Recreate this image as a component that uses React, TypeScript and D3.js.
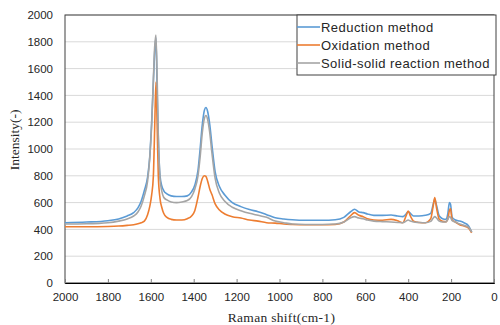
import React, { useEffect, useRef } from "react";
import * as d3 from "d3";

// Raman shift (cm-1) sample points, shared by the three spectra
const shifts = [
  2000, 1900, 1800, 1750, 1710, 1680, 1660, 1645, 1630, 1615, 1605, 1596, 1588, 1582, 1576, 1570,
  1565, 1557, 1548, 1540, 1525, 1505, 1480, 1455, 1430, 1410, 1395, 1380, 1370, 1360, 1350, 1343,
  1335, 1325, 1315, 1300, 1280, 1255, 1220, 1180, 1140, 1100, 1060, 1020, 980, 940, 880, 800, 740,
  700, 670, 650, 630, 610, 590, 560, 520, 480, 450, 425, 410, 400, 390, 375, 350, 320, 295, 283,
  276, 268, 255, 240, 225, 215, 208, 203, 195, 180, 160, 140, 120, 104,
];

const reduction = [
  450, 455, 465, 478, 500, 525, 560, 610, 690, 790, 940, 1200, 1500, 1720, 1830, 1400,
  1080, 800, 720, 690, 665, 650, 645, 645, 650, 680, 730, 840, 1000, 1180, 1290, 1310,
  1280, 1180, 1030, 830, 720, 657, 600, 570, 548, 532, 510, 487, 478, 472, 468, 468, 472,
  490, 530, 550, 530, 525, 515, 505, 505, 507, 500, 495, 515, 532, 520, 500, 500, 505, 520, 590,
  625, 580, 500, 480, 475, 520, 600, 590, 490, 470, 462, 450, 430, 380,
];

const oxidation = [
  420, 420, 422, 425, 430, 435, 442, 450, 462, 510, 570, 657, 800, 1150, 1500, 1150,
  800, 630, 560, 520, 490, 475, 470, 470, 480, 500, 540, 640, 720, 780, 800, 795,
  760, 700, 660, 590, 545, 515, 495, 485, 470, 462, 450, 447, 440, 437, 435, 435, 437,
  455, 500, 525, 505, 495, 480, 470, 468, 475, 465, 450, 500, 537, 500, 462, 452, 450, 480, 580,
  637, 560, 475, 460, 457, 480, 540, 555, 470, 455, 435, 425, 412, 375,
];

const solidSolid = [
  440, 442, 450, 462, 478, 500, 530, 575, 650, 760, 930, 1180, 1520, 1760, 1850, 1500,
  1100, 780, 680, 640, 620, 605, 600, 605, 615, 645, 700, 800, 940, 1120, 1230, 1250,
  1220, 1120, 970, 780, 670, 610, 565, 540, 520, 505, 490, 462, 450, 440, 437, 437, 440,
  455, 485, 495, 485, 480, 470, 462, 458, 455, 452, 450, 462, 470, 462, 455, 452, 450, 460, 485,
  495, 485, 462, 455, 455, 475, 495, 490, 465, 455, 440, 430, 418, 380,
];

const seriesNames = ["Reduction method", "Oxidation method", "Solid-solid reaction method"];
const seriesColors = ["#5b9bd5", "#ed7d31", "#a5a5a5"];
const xTicks = [2000, 1800, 1600, 1400, 1200, 1000, 800, 600, 400, 200, 0];
const yTicks = [0, 200, 400, 600, 800, 1000, 1200, 1400, 1600, 1800, 2000];

const App = () => {
  const ref = useRef<SVGSVGElement>(null);

  useEffect(() => {
    const left = 65;
    const right = 494;
    const top = 15;
    const bottom = 283;

    const x = d3.scaleLinear().domain([2000, 0]).range([left, right]);
    const y = d3.scaleLinear().domain([0, 2000]).range([bottom, top]);

    const svg = d3.select(ref.current);
    svg.selectAll("*").remove();

    svg
      .append("rect")
      .attr("width", 500)
      .attr("height", 325)
      .attr("fill", "#fff");

    // horizontal gridlines
    svg
      .append("g")
      .selectAll("line")
      .data(yTicks)
      .enter()
      .append("line")
      .attr("x1", left)
      .attr("x2", right)
      .attr("y1", (d) => y(d))
      .attr("y2", (d) => y(d))
      .attr("stroke", "#d9d9d9")
      .attr("stroke-width", 1);

    // plot frame
    svg
      .append("rect")
      .attr("x", left)
      .attr("y", top)
      .attr("width", right - left)
      .attr("height", bottom - top)
      .attr("fill", "none")
      .attr("stroke", "#404040")
      .attr("stroke-width", 1);

    // x axis, ticks pointing up
    const xAxis = svg
      .append("g")
      .attr("transform", "translate(0," + bottom + ")")
      .call(d3.axisBottom(x).tickValues(xTicks).tickSize(-4).tickPadding(10).tickFormat(d3.format("d")));
    xAxis.select(".domain").attr("stroke", "#000");
    xAxis.selectAll(".tick line").attr("stroke", "#808080");
    xAxis
      .selectAll("text")
      .attr("fill", "#262626")
      .style("font-family", "'Liberation Sans', Arial, sans-serif")
      .style("font-size", "11.5px");

    const yAxis = svg
      .append("g")
      .attr("transform", "translate(" + left + ",0)")
      .call(d3.axisLeft(y).tickValues(yTicks).tickSize(0).tickPadding(12).tickFormat(d3.format("d")));
    yAxis.select(".domain").remove();
    yAxis
      .selectAll("text")
      .attr("fill", "#262626")
      .style("font-family", "'Liberation Sans', Arial, sans-serif")
      .style("font-size", "11.5px");

    const line = d3
      .line<number>()
      .x((d, i) => x(shifts[i]))
      .y((d) => y(d))
      .curve(d3.curveMonotoneX);

    [reduction, oxidation, solidSolid].forEach((values, i) => {
      svg
        .append("path")
        .datum(values)
        .attr("fill", "none")
        .attr("stroke", seriesColors[i])
        .attr("stroke-width", 1.6)
        .attr("stroke-linejoin", "round")
        .attr("d", line);
    });

    // axis titles
    svg
      .append("text")
      .attr("x", (left + right) / 2 + 2)
      .attr("y", 322)
      .attr("text-anchor", "middle")
      .style("font-family", "'Liberation Serif', 'Times New Roman', serif")
      .style("font-size", "13.5px")
      .style("letter-spacing", "0.3px")
      .attr("fill", "#262626")
      .text("Raman shift(cm-1)");

    svg
      .append("text")
      .attr("transform", "translate(19,140) rotate(-90)")
      .attr("text-anchor", "middle")
      .style("font-family", "'Liberation Serif', 'Times New Roman', serif")
      .style("font-size", "13.5px")
      .attr("fill", "#262626")
      .text("Intensity(-)");

    // legend
    const legend = svg.append("g").attr("transform", "translate(297,15)");
    legend
      .append("rect")
      .attr("width", 199)
      .attr("height", 60)
      .attr("fill", "#fff")
      .attr("stroke", "#404040")
      .attr("stroke-width", 1);

    seriesNames.forEach((name, i) => {
      const ly = 12 + i * 18;
      legend
        .append("line")
        .attr("x1", 0)
        .attr("x2", 23)
        .attr("y1", ly)
        .attr("y2", ly)
        .attr("stroke", seriesColors[i])
        .attr("stroke-width", 1.6);
      legend
        .append("text")
        .attr("x", 24)
        .attr("y", ly + 4.5)
        .style("font-family", "'Liberation Sans', Arial, sans-serif")
        .style("font-size", "13px")
        .style("letter-spacing", "0.45px")
        .attr("fill", "#262626")
        .text(name);
    });
  }, []);

  return (
    <div style={{ position: "absolute", left: 0, top: 0 }}>
      <svg ref={ref} width={500} height={325}></svg>
    </div>
  );
};

export default App;
